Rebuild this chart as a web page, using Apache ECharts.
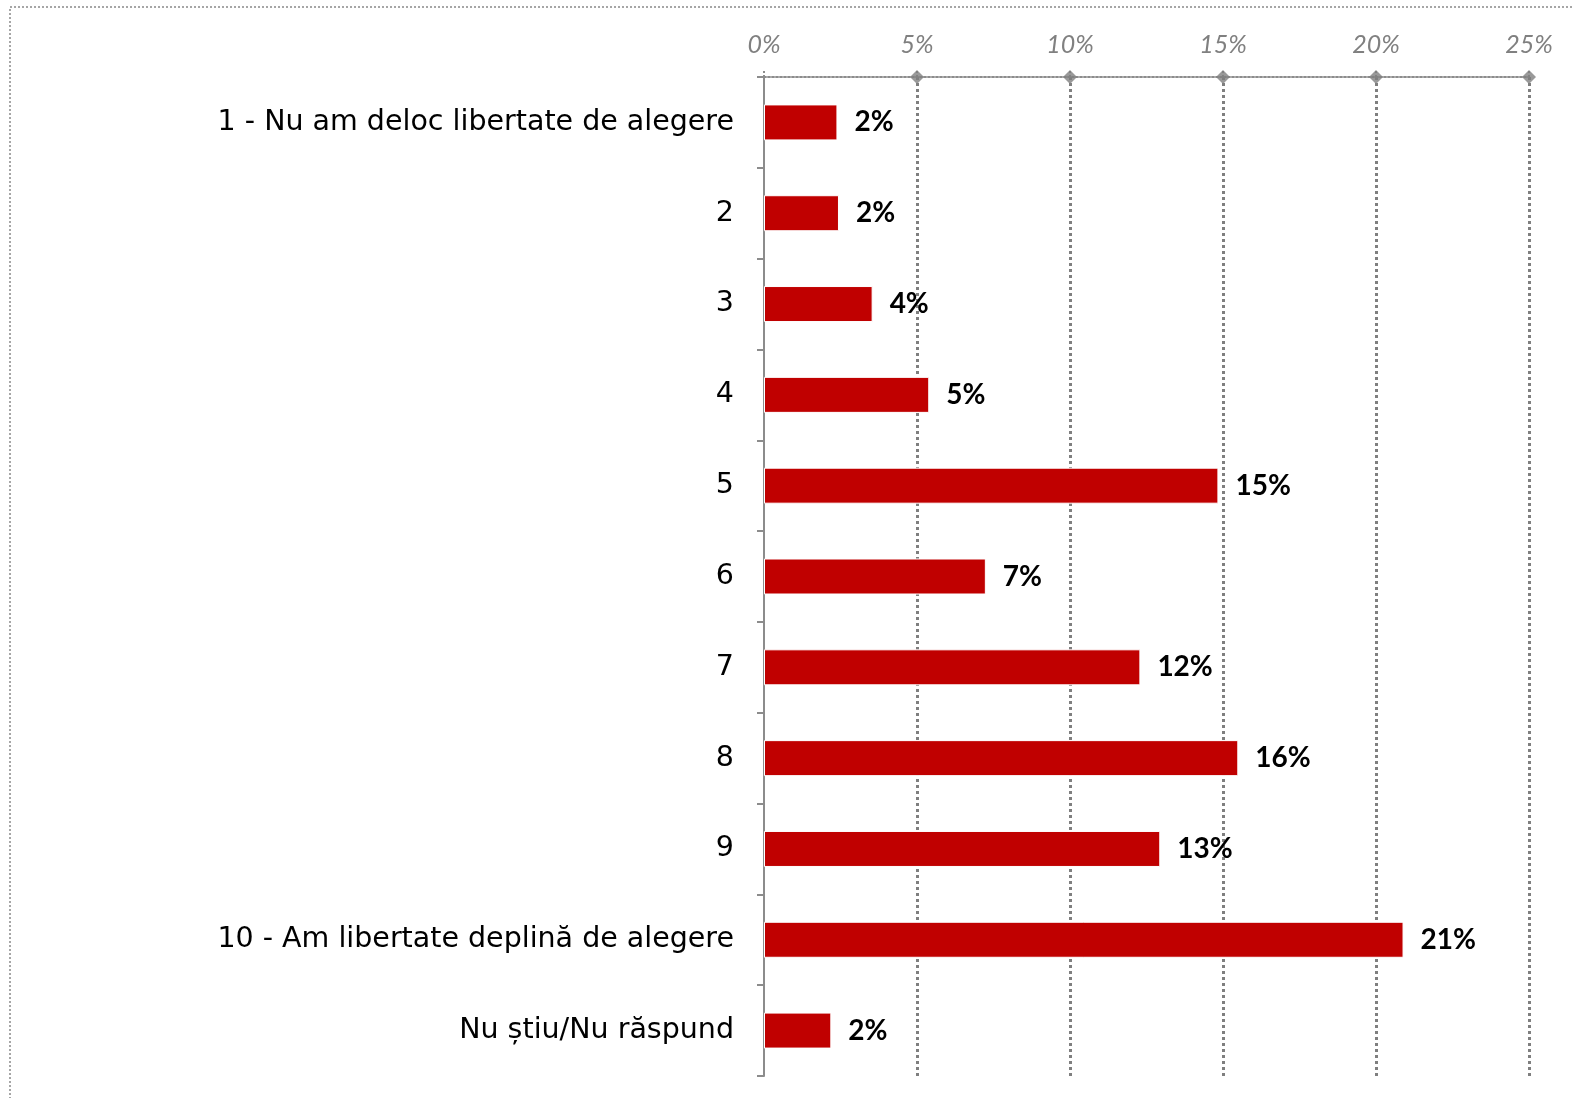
<!DOCTYPE html>
<html>
<head>
<meta charset="utf-8">
<script src="https://cdn.jsdelivr.net/npm/echarts@6/dist/echarts.min.js"></script>
<style>
  html, body { margin: 0; padding: 0; background: #fff; }
  #chart { width: 1572px; height: 1098px; }
</style>
</head>
<body>
<div id="chart"></div>
<script>
// categorii (scala 1-10 + NS/NR)
const categories = [
  '1 - Nu am deloc libertate de alegere',
  '2', '3', '4', '5', '6', '7', '8', '9',
  '10 - Am libertate deplină de alegere',
  'Nu știu/Nu răspund'
]
// procente
const values = [2.4, 2.45, 3.55, 5.4, 14.85, 7.25, 12.3, 15.5, 12.95, 20.9, 2.2]
const valueLabels = ['2%', '2%', '4%', '5%', '15%', '7%', '12%', '16%', '13%', '21%', '2%']
// gradatii axa X
const xTicks = [0, 5, 10, 15, 20, 25]

const chart = echarts.init(document.getElementById('chart'))

const option = {
  animation: false,
  backgroundColor: '#fff',
  graphic: [
    {
      type: 'rect',
      shape: { x: 10, y: 7, width: 1700, height: 1300 },
      style: { fill: 'none', stroke: '#a6a6a6', lineWidth: 2, lineDash: [2, 2] },
      silent: true
    }
  ],
  grid: { left: 764, right: 43, top: 77, bottom: 22 },
  xAxis: [
    {
      type: 'value',
      position: 'top',
      min: 0,
      max: 25,
      interval: 5,
      axisLine: { show: true, onZero: false, lineStyle: { color: '#8c8c8c', type: [2, 2], width: 2 } },
      axisTick: { show: true, length: 6, lineStyle: { color: '#8c8c8c', type: [2, 2], width: 2 } },
      splitLine: { show: true, showMinLine: false, lineStyle: { color: '#7f7f7f', type: [3, 3], width: 3 } },
      axisLabel: {
        margin: 20,
        formatter: '{value}%',
        color: '#808080',
        fontStyle: 'italic',
        fontFamily: 'Lato',
        fontSize: 25
      }
    }
  ],
  yAxis: [
    {
      type: 'category',
      data: categories,
      inverse: true,
      axisLine: { show: true, onZero: false, lineStyle: { color: '#8c8c8c', width: 2 } },
      axisTick: { show: true, length: 7, lineStyle: { color: '#8c8c8c', width: 2 } },
      splitLine: { show: false },
      axisLabel: {
        margin: 30,
        color: '#000',
        fontFamily: 'DejaVu Sans',
        fontSize: 28.5
      }
    },
    {
      type: 'value',
      min: 0,
      max: 1,
      show: false,
      splitLine: { show: false }
    }
  ],
  series: [
    {
      type: 'bar',
      data: values,
      barWidth: 36,
      z: 3,
      itemStyle: { color: '#c00000', borderColor: '#fff', borderWidth: 1 },
      label: {
        show: true,
        position: 'right',
        distance: 17,
        color: '#000',
        fontWeight: 'bold',
        fontFamily: 'Lato',
        fontSize: 28,
        formatter: p => valueLabels[p.dataIndex]
      }
    },
    {
      // romburi pe axa de sus
      type: 'scatter',
      yAxisIndex: 1,
      data: xTicks.slice(1).map(t => [t, 1]),
      symbol: 'diamond',
      symbolSize: [14, 14],
      itemStyle: { color: '#808080' },
      z: 4,
      silent: true
    }
  ]
}

chart.setOption(option)
</script>
</body>
</html>
